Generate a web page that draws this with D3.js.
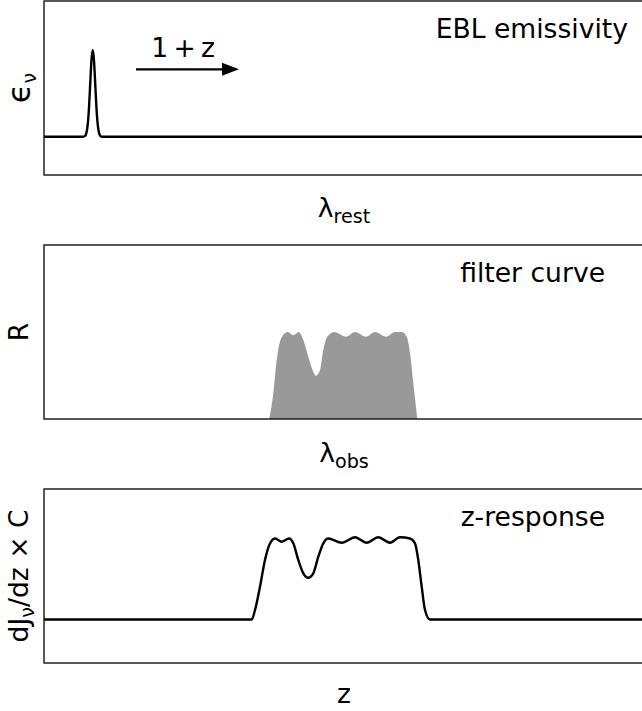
<!DOCTYPE html>
<html><head><meta charset="utf-8">
<script src="https://cdn.jsdelivr.net/npm/d3@7"></script>
<style>
html,body{margin:0;padding:0;background:#fff;}
svg{display:block;font-family:"DejaVu Sans",sans-serif;}
</style></head><body>
<svg id="fig" width="642" height="711"></svg>
<script>
// Rest-frame emissivity: one narrow emission line on a flat continuum
const lambdaRest = [0, 6.5, 6.86, 7.07, 7.28, 7.49, 7.70, 7.91, 8.12, 8.33, 8.54, 8.75, 8.96, 9.17, 9.38, 9.7, 100];
const emissivity = [0, 0, 0.01, 0.044, 0.135, 0.325, 0.607, 0.882, 1.0, 0.882, 0.607, 0.325, 0.135, 0.044, 0.01, 0, 0];

// Observed-frame filter transmission
const lambdaObs = [37.55, 38.22, 38.78, 39.33, 40.17, 40.62, 41.55, 42.45, 43.22, 44.05, 44.88, 45.33, 46.0, 46.55, 47.22, 48.38,
                   50.33, 51.83, 53.67, 55.17, 57.0, 58.5, 59.62, 60.45, 61.0, 61.55, 62.22];
const filterR   = [0, 0.295, 0.678, 0.889, 0.985, 1.0, 0.962, 1.0, 0.908, 0.716, 0.544, 0.498, 0.563, 0.793, 0.946, 1.0,
                   0.946, 1.0, 0.946, 1.0, 0.946, 1.0, 1.0, 0.946, 0.759, 0.414, 0];

// Redshift response dJ/dz (scaled)
const zGrid     = [0, 34.62, 35.17, 36.0, 36.83, 37.55, 38.5, 39.62, 40.88, 41.55, 42.38, 43.22, 44.05, 44.88, 45.72, 46.55, 47.38,
                   49.62, 51.83, 53.78, 55.72, 57.67, 59.33, 61.0, 61.83, 62.38, 62.95, 63.5, 64.33, 100];
const zResponse = [0, 0, 0.117, 0.405, 0.735, 0.92, 1.0, 0.96, 1.0, 0.94, 0.735, 0.57, 0.516, 0.57, 0.775, 0.94, 1.0,
                   0.948, 1.015, 0.948, 1.015, 0.948, 1.015, 1.0, 0.94, 0.735, 0.405, 0.117, 0, 0];

const panelTitles = ["EBL emissivity", "filter curve", "z-response"];

const svg = d3.select("#fig");
const left = 44, right = 644, ph = 174;
const tops = [1, 245, 489];
const fs = 26.6;

const x = d3.scaleLinear().domain([0, 100]).range([left, right]);
const yDomains = [[-0.442, 1.565], [0, 2], [-0.537, 1.611]];
const ys = tops.map((t, i) => d3.scaleLinear().domain(yDomains[i]).range([t + ph, t]));

const defs = svg.append("defs");
tops.forEach((t, i) => {
  defs.append("clipPath").attr("id", "clip" + i)
    .append("rect").attr("x", left).attr("y", t).attr("width", right - left).attr("height", ph);
});

const lineGen = (y) => d3.line().x(d => x(d[0])).y(d => y(d[1])).curve(d3.curveMonotoneX);

// Panel 1: emissivity
{
  const y = ys[0];
  const g = svg.append("g").attr("clip-path", "url(#clip0)");
  g.append("path").datum(d3.zip(lambdaRest, emissivity))
    .attr("d", lineGen(y)).attr("fill", "none").attr("stroke", "#000")
    .attr("stroke-width", 2.4).attr("stroke-linejoin", "round");
  // redshift arrow
  const ay = y(0.777), ax0 = x(15.33), ax1 = x(32.5);
  svg.append("line").attr("x1", ax0).attr("x2", ax1 - 14).attr("y1", ay).attr("y2", ay)
    .attr("stroke", "#000").attr("stroke-width", 2.2);
  svg.append("path")
    .attr("d", `M${ax1},${ay} L${ax1 - 17},${ay - 6.5} L${ax1 - 17},${ay + 6.5} Z`)
    .attr("fill", "#000");
  svg.append("text").attr("x", x(23.2)).attr("y", y(0.92))
    .attr("text-anchor", "middle").attr("font-size", fs)
    .text("1\u2009+\u2009z");
}

// Panel 2: filter curve
{
  const y = ys[1];
  const g = svg.append("g").attr("clip-path", "url(#clip1)");
  g.append("path").datum(d3.zip(lambdaObs, filterR))
    .attr("d", d3.area().x(d => x(d[0])).y0(y(0)).y1(d => y(d[1])).curve(d3.curveMonotoneX))
    .attr("fill", "#999999");
}

// Panel 3: z-response
{
  const y = ys[2];
  const g = svg.append("g").attr("clip-path", "url(#clip2)");
  g.append("path").datum(d3.zip(zGrid, zResponse))
    .attr("d", lineGen(y)).attr("fill", "none").attr("stroke", "#000")
    .attr("stroke-width", 2.4).attr("stroke-linejoin", "round");
}

// frames
tops.forEach(t => {
  svg.append("rect").attr("x", left).attr("y", t).attr("width", right - left).attr("height", ph)
    .attr("fill", "none").attr("stroke", "#000").attr("stroke-width", 1.3);
});

// panel titles
const titleRight = [628, 605, 605];
panelTitles.forEach((s, i) => {
  svg.append("text").attr("x", titleRight[i]).attr("y", tops[i] + 37)
    .attr("text-anchor", "end").attr("font-size", fs).text(s);
});

// labels with a subscript
function subLabel(sel, main, sub, tail, mainSize) {
  sel.append("tspan").attr("font-size", mainSize || fs).text(main);
  sel.append("tspan").attr("font-size", fs * 0.72).attr("dy", 6).text(sub);
  if (tail) sel.append("tspan").attr("dy", -6).text(tail);
}
const xc = (left + right) / 2;
subLabel(svg.append("text").attr("x", xc).attr("y", 217).attr("text-anchor", "middle").attr("font-size", fs), "\u03bb", "rest");
subLabel(svg.append("text").attr("x", xc).attr("y", 462).attr("text-anchor", "middle").attr("font-size", fs), "\u03bb", "obs");
svg.append("text").attr("x", xc).attr("y", 703).attr("text-anchor", "middle").attr("font-size", fs).text("z");

// y-axis labels
function yLabel(i, bx) {
  const cy = tops[i] + ph / 2;
  return svg.append("text").attr("transform", `translate(${bx},${cy}) rotate(-90)`)
    .attr("text-anchor", "middle").attr("font-size", fs);
}
subLabel(yLabel(0, 30), "\u03f5", "\u03bd", null, fs * 1.2);
yLabel(1, 28).text("R");
subLabel(yLabel(2, 28), "dJ", "\u03bd", "/dz \u00d7 C");
</script>
</body></html>
